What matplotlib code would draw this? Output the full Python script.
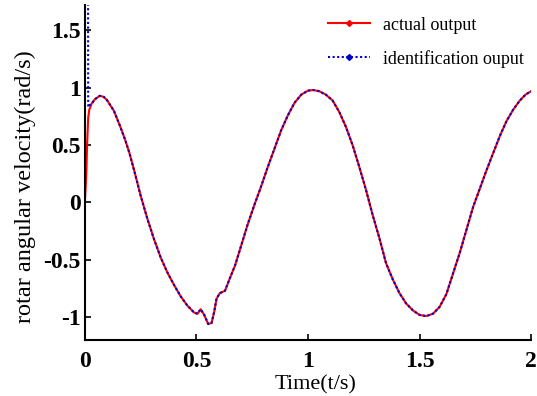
import matplotlib
matplotlib.use('Agg')
import matplotlib.pyplot as plt
from matplotlib.lines import Line2D

# values
time_s = [0, 0.004, 0.007, 0.01, 0.015, 0.02, 0.03, 0.045, 0.067, 0.085, 0.1, 0.13,
          0.157, 0.18, 0.2, 0.225, 0.25, 0.28, 0.31, 0.34, 0.37, 0.40, 0.43, 0.46,
          0.49, 0.505, 0.519, 0.535, 0.553, 0.568, 0.58, 0.59, 0.605, 0.628, 0.65,
          0.673, 0.70, 0.73, 0.76, 0.79, 0.82, 0.85, 0.88, 0.91, 0.94, 0.97, 1.0,
          1.024, 1.05, 1.08, 1.11, 1.14, 1.17, 1.20, 1.23, 1.26, 1.29, 1.32, 1.35,
          1.38, 1.41, 1.44, 1.47, 1.50, 1.53, 1.56, 1.59, 1.62, 1.65, 1.68, 1.71,
          1.74, 1.77, 1.80, 1.83, 1.86, 1.89, 1.92, 1.95, 1.975, 2.0]
actual = [0, 0.15, 0.28, 0.50, 0.74, 0.81, 0.86, 0.90, 0.93, 0.92, 0.89, 0.80,
          0.67, 0.55, 0.43, 0.25, 0.06, -0.14, -0.32, -0.48, -0.61, -0.72, -0.82, -0.90,
          -0.96, -0.97, -0.93, -0.98, -1.06, -1.05, -0.95, -0.84, -0.79, -0.77, -0.66,
          -0.55, -0.38, -0.19, -0.02, 0.14, 0.31, 0.47, 0.63, 0.76, 0.87, 0.94, 0.975,
          0.98, 0.97, 0.94, 0.89, 0.79, 0.66, 0.50, 0.31, 0.11, -0.11, -0.31, -0.53,
          -0.67, -0.79, -0.88, -0.94, -0.98, -0.99, -0.97, -0.91, -0.80, -0.62, -0.44, -0.24,
          -0.04, 0.12, 0.28, 0.43, 0.58, 0.71, 0.81, 0.89, 0.94, 0.97]

# identification output: spike at start, then same as actual
ident_start_t = [0.012, 0.015, 0.022]
ident_start_v = [5.0, 0.83, 0.85]
ident_t = ident_start_t + [t for t in time_s if t >= 0.03]
ident = ident_start_v + [v for t, v in zip(time_s, actual) if t >= 0.03]

xticks = [0, 0.5, 1, 1.5, 2]
xlabels = ['0', '0.5', '1', '1.5', '2']
yticks = [-1, -0.5, 0, 0.5, 1, 1.5]
ylabels = ['-1', '-0.5', '0', '0.5', '1', '1.5']

plt.rcParams['font.family'] = ['Liberation Serif', 'DejaVu Serif']

fig = plt.figure(figsize=(5.37, 3.96), dpi=100)
ax = fig.add_axes([0.158, 0.141, 0.831, 0.846])

ax.plot(time_s, actual, color='#ff0000', lw=1.5)
ax.plot(ident_t, ident, color='#0000cc', lw=1.5, ls=(0, (1, 1.2)))

ax.set_xlim(0, 2)
ax.set_ylim(-1.2, 1.72)
ax.set_xticks(xticks)
ax.set_xticklabels(xlabels, fontsize=17, fontweight='bold')
ax.set_yticks(yticks)
ax.set_yticklabels(ylabels, fontsize=17, fontweight='bold')
ax.tick_params(direction='in', length=4, width=1.2)
ax.tick_params(axis='x', pad=8)
ax.tick_params(axis='y', pad=3)
for s in ['top', 'right']:
    ax.spines[s].set_visible(False)
for s in ['left', 'bottom']:
    ax.spines[s].set_linewidth(1.5)

ax.set_xlabel('Time(t/s)', fontsize=16, va='top')
ax.xaxis.set_label_coords(0.516, -0.104)
ax.set_ylabel('rotar angular velocity(rad/s)', fontsize=17.5, va='center')
ax.yaxis.set_label_coords(-0.134, 0.457)

handles = [Line2D([], [], color='#ff0000', lw=1.5, marker='D', markersize=3),
           Line2D([], [], color='#0000cc', lw=1.5, ls=(0, (1, 1.2)), marker='D', markersize=3)]
fig.legend(handles, ['actual output', 'identification ouput'], loc='upper left',
           bbox_to_anchor=(0.611, 0.958), frameon=False, fontsize=13,
           handlelength=2.33, handletextpad=0.7, borderpad=0, borderaxespad=0,
           labelspacing=0.9)

fig.savefig('out.png', dpi=100)
